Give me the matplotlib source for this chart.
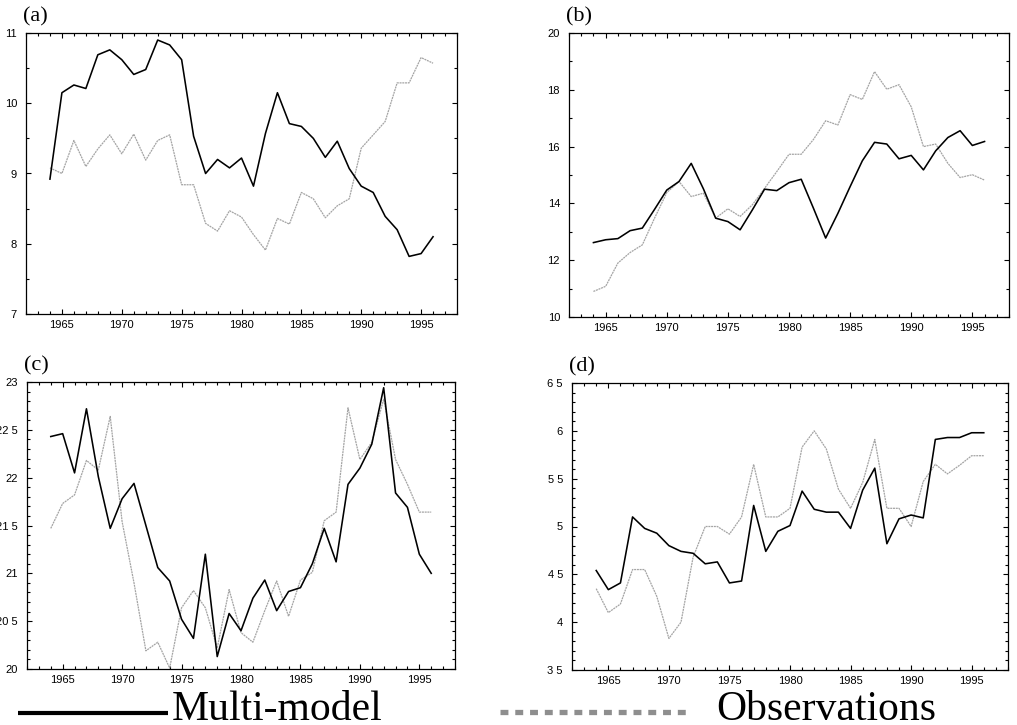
import matplotlib
matplotlib.use("Agg")
import matplotlib.pyplot as plt
from matplotlib.lines import Line2D
from matplotlib.ticker import MultipleLocator, FixedLocator, FixedFormatter

# ---------------- DATA ----------------
years = list(range(1964, 1997))

a_model = [8.92, 10.15, 10.26, 10.21, 10.69, 10.76, 10.62, 10.41, 10.48, 10.90, 10.83,
           10.62, 9.53, 9.00, 9.20, 9.08, 9.22, 8.82, 9.57, 10.15, 9.71, 9.67, 9.50,
           9.23, 9.46, 9.07, 8.82, 8.73, 8.39, 8.20, 7.82, 7.86, 8.10]
a_obs = [9.08, 9.00, 9.47, 9.10, 9.35, 9.55, 9.28, 9.56, 9.19, 9.47, 9.55,
         8.84, 8.84, 8.29, 8.18, 8.47, 8.38, 8.13, 7.91, 8.36, 8.28, 8.73, 8.64,
         8.37, 8.54, 8.64, 9.36, 9.55, 9.74, 10.29, 10.29, 10.65, 10.57]

b_model = [12.62, 12.72, 12.76, 13.04, 13.13, 13.79, 14.47, 14.77, 15.41, 14.51, 13.48,
           13.36, 13.07, 13.77, 14.50, 14.45, 14.73, 14.85, 13.83, 12.78, 13.65, 14.59,
           15.50, 16.15, 16.09, 15.57, 15.69, 15.18, 15.85, 16.32, 16.56, 16.04, 16.18]
b_obs = [10.90, 11.08, 11.90, 12.27, 12.54, 13.48, 14.38, 14.77, 14.24, 14.36, 13.48,
         13.81, 13.54, 13.95, 14.53, 15.12, 15.73, 15.73, 16.25, 16.91, 16.76, 17.83,
         17.66, 18.64, 18.02, 18.18, 17.40, 16.00, 16.09, 15.41, 14.91, 15.01, 14.82]

c_model = [22.43, 22.46, 22.05, 22.72, 22.01, 21.47, 21.78, 21.94, 21.50, 21.06, 20.92,
           20.52, 20.32, 21.20, 20.13, 20.58, 20.40, 20.74, 20.93, 20.61, 20.81, 20.85,
           21.10, 21.47, 21.12, 21.93, 22.10, 22.35, 22.94, 21.84, 21.69, 21.20, 21.00]
c_obs = [21.47, 21.73, 21.82, 22.18, 22.08, 22.64, 21.54, 20.90, 20.19, 20.28, 20.01,
         20.64, 20.82, 20.64, 20.22, 20.83, 20.38, 20.28, 20.61, 20.92, 20.55, 20.93,
         21.01, 21.55, 21.64, 22.73, 22.19, 22.37, 22.82, 22.19, 21.93, 21.64, 21.64]

d_model = [4.54, 4.34, 4.41, 5.10, 4.98, 4.93, 4.80, 4.74, 4.72, 4.61, 4.63,
           4.41, 4.43, 5.22, 4.74, 4.95, 5.01, 5.37, 5.18, 5.15, 5.15, 4.98,
           5.38, 5.61, 4.82, 5.08, 5.12, 5.09, 5.91, 5.93, 5.93, 5.98, 5.98]
d_obs = [4.35, 4.10, 4.19, 4.55, 4.55, 4.27, 3.83, 4.00, 4.68, 5.00, 5.00,
         4.92, 5.10, 5.65, 5.10, 5.10, 5.19, 5.83, 6.00, 5.81, 5.39, 5.19,
         5.46, 5.91, 5.19, 5.19, 5.00, 5.47, 5.65, 5.55, 5.64, 5.74, 5.74]

x_ticks = [1965, 1970, 1975, 1980, 1985, 1990, 1995]
x_tick_labels = ["1965", "1970", "1975", "1980", "1985", "1990", "1995"]

a_yticks = [7, 8, 9, 10, 11]
a_ylabels = ["7", "8", "9", "10", "11"]
b_yticks = [10, 12, 14, 16, 18, 20]
b_ylabels = ["10", "12", "14", "16", "18", "20"]
c_yticks = [20, 20.5, 21, 21.5, 22, 22.5, 23]
c_ylabels = ["20", "20 5", "21", "21 5", "22", "22 5", "23"]
d_yticks = [3.5, 4, 4.5, 5, 5.5, 6, 6.5]
d_ylabels = ["3 5", "4", "4 5", "5", "5 5", "6", "6 5"]

panel_letters = ["(a)", "(b)", "(c)", "(d)"]
legend_labels = ["Multi-model", "Observations"]

# ---------------- FIGURE ----------------
W, H = 1017, 725
fig = plt.figure(figsize=(W / 100, H / 100), dpi=100)

def box(l, r, t, b):
    return [l / W, 1 - b / H, (r - l) / W, (b - t) / H]

panels = [
    (box(26, 457, 33, 314), a_model, a_obs, (7, 11), a_yticks, a_ylabels, 0.5),
    (box(569, 1009, 33, 317), b_model, b_obs, (10, 20), b_yticks, b_ylabels, 1.0),
    (box(27, 455, 382, 669), c_model, c_obs, (20, 23), c_yticks, c_ylabels, 0.1),
    (box(572, 1008, 383, 670), d_model, d_obs, (3.5, 6.5), d_yticks, d_ylabels, 0.1),
]

tick_family = ["Liberation Sans", "DejaVu Sans"]
serif_family = ["Liberation Serif", "DejaVu Serif"]
black = "#000000"
grey = "#a4a4a4"

for (rect, model, obs, ylim, yt, yl, yminor), letter in zip(panels, panel_letters):
    ax = fig.add_axes(rect)
    ax.plot(years, obs, color=grey, lw=0.9, ls=(0, (1.6, 0.6)), zorder=2)
    ax.plot(years, model, color=black, lw=1.15, zorder=3)
    ax.set_xlim(1962, 1998)
    ax.set_ylim(*ylim)
    ax.xaxis.set_major_locator(FixedLocator(x_ticks))
    ax.xaxis.set_major_formatter(FixedFormatter(x_tick_labels))
    ax.xaxis.set_minor_locator(MultipleLocator(1))
    ax.yaxis.set_major_locator(FixedLocator(yt))
    ax.yaxis.set_major_formatter(FixedFormatter(yl))
    ax.yaxis.set_minor_locator(MultipleLocator(yminor))
    ax.tick_params(which="both", direction="in", top=True, right=True,
                   width=0.8, colors="black")
    ax.tick_params(which="major", length=3.8)
    ax.tick_params(which="minor", length=1.9)
    ax.tick_params(axis="y", which="major", pad=6.5)
    ax.tick_params(axis="x", which="major", pad=4)
    for lab in ax.get_xticklabels() + ax.get_yticklabels():
        lab.set_fontfamily(tick_family)
        lab.set_fontsize(8)
    for s in ax.spines.values():
        s.set_linewidth(0.9)
    ax.text(-0.006, 1.022, letter, transform=ax.transAxes, ha="left", va="bottom",
            fontsize=16, family=serif_family)

# ---------------- LEGEND ----------------
fig.add_artist(Line2D([18 / W, 168 / W], [1 - 713 / H, 1 - 713 / H],
                      transform=fig.transFigure, color=black, lw=3.0,
                      solid_capstyle="butt"))
fig.add_artist(Line2D([500 / W, 690 / W], [1 - 712 / H, 1 - 712 / H],
                      transform=fig.transFigure, color="#8e8e8e", lw=3.8,
                      ls=(0, (1.5, 1.3)), dash_capstyle="butt"))
fig.text(172 / W, 1 - 720 / H, legend_labels[0], ha="left", va="baseline",
         fontsize=30, family=serif_family)
fig.text(716 / W, 1 - 720 / H, legend_labels[1], ha="left", va="baseline",
         fontsize=30, family=serif_family)

fig.savefig("out.png", dpi=100)
